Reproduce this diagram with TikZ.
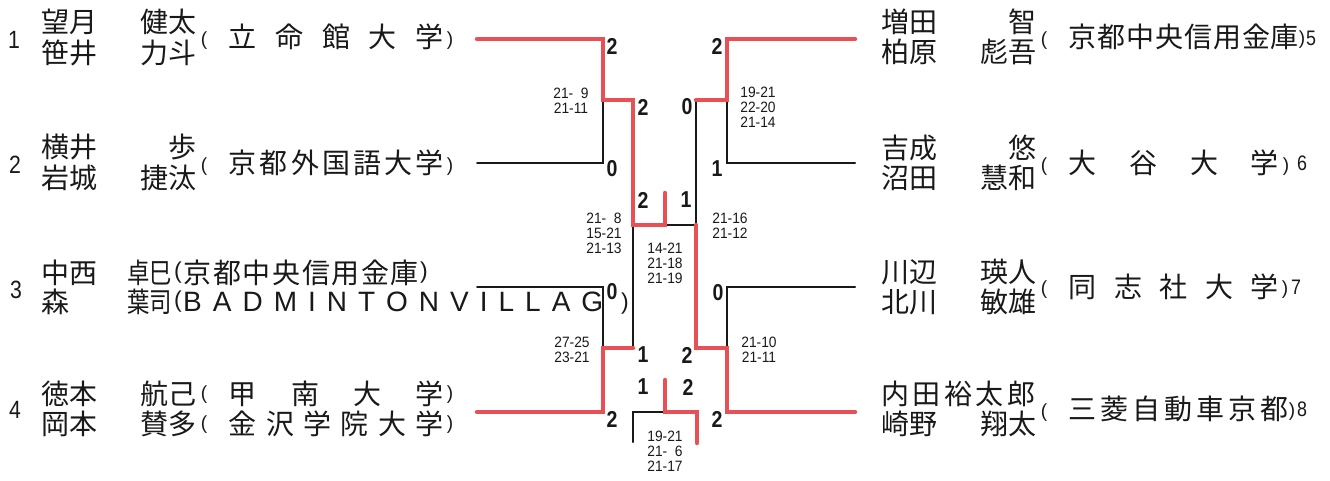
\documentclass[tikz,border=0pt]{standalone}
\usepackage{fontspec}
\usepackage{graphicx}
\newfontfamily\jpfont{Noto Sans CJK JP}
\newfontfamily\arialfont{Liberation Sans}
\definecolor{wred}{RGB}{233,80,86}
\definecolor{ink}{RGB}{25,25,25}
\newcommand\rsd[1]{\scalebox{0.85}[1]{#1}}
\newcommand\nsx[1]{\scalebox{0.85}[1]{#1}}
\newcommand\nnx[1]{\scalebox{0.8}[1]{#1}}
\newcommand\gsx[1]{\scalebox{0.92}[1]{#1}}
\newcommand\tk{\hspace{11pt}}
\begin{document}
\begin{tikzpicture}[x=1pt,y=-1pt,
  jp/.style={font=\jpfont\fontsize{28}{30}\selectfont, inner sep=0pt, text=ink},
  jpw/.style={jp, anchor=west},
  jpe/.style={jp, anchor=east},
  par/.style={font=\arialfont\fontsize{19}{20}\selectfont, inner sep=0pt, text=ink},
  bigpar/.style={font=\arialfont\fontsize{23}{24}\selectfont, inner sep=0pt, text=ink},
  seed/.style={font=\arialfont\fontsize{25}{25}\selectfont, inner sep=0pt, text=ink},
  rseed/.style={font=\arialfont\fontsize{21}{21}\selectfont, inner sep=0pt, text=ink},
  rs/.style={font=\arialfont\bfseries\fontsize{23}{23}\selectfont, inner sep=0pt, text=ink},
  gs/.style={font=\arialfont\fontsize{15}{15}\selectfont, inner sep=0pt, align=center, text=ink},
  win/.style={draw=wred, line width=4.5pt, line cap=round, line join=miter},
  lose/.style={draw=ink, line width=2pt, line cap=round, line join=miter}]
\path[use as bounding box, fill=white] (0,0) rectangle (1330,480);

% ---------- bracket coordinates ----------
\coordinate (L1s) at (477,39);  \coordinate (L1e) at (603,39);
\coordinate (L2s) at (477,163); \coordinate (L2e) at (603,163);
\coordinate (L12m) at (603,100); \coordinate (S1a) at (633,100);
\coordinate (L3s) at (477,287); \coordinate (L3e) at (603,287);
\coordinate (L4s) at (477,412); \coordinate (L4e) at (603,412);
\coordinate (L34m) at (603,348); \coordinate (S1b) at (633,348);
\coordinate (F1) at (633,225); \coordinate (Fm) at (665,225);
\coordinate (Fc) at (665,193); \coordinate (F2) at (696,225);
\coordinate (R5s) at (855,39);  \coordinate (R5e) at (727,39);
\coordinate (R6s) at (855,163); \coordinate (R6e) at (727,163);
\coordinate (R56m) at (727,100); \coordinate (S2a) at (696,100);
\coordinate (R7s) at (855,287); \coordinate (R7e) at (727,287);
\coordinate (R8s) at (855,412); \coordinate (R8e) at (727,412);
\coordinate (R78m) at (727,348); \coordinate (S2b) at (696,348);
\coordinate (T1) at (633,412); \coordinate (T1d) at (633,442);
\coordinate (Tm) at (665,412); \coordinate (Tc) at (665,380);
\coordinate (T2) at (697,412); \coordinate (T2d) at (697,443);

% ---------- losing lines ----------
\draw[lose] (L2s) -- (L2e) -- (L12m);
\draw[lose] (L3s) -- (L3e) -- (L34m);
\draw[lose] (S1b) -- (F1);
\draw[lose] (R6s) -- (R6e) -- (R56m);
\draw[lose] (R7s) -- (R7e) -- (R78m);
\draw[lose] (S2a) -- (F2) -- (Fm);
\draw[lose] (T1d) -- (T1) -- (Tm);
% ---------- winning lines ----------
\draw[win] (L1s) -- (L1e) -- (L12m) -- (S1a) -- (F1) -- (Fm) -- (Fc);
\draw[win] (L4s) -- (L4e) -- (L34m) -- (S1b);
\draw[win] (R5s) -- (R5e) -- (R56m) -- (S2a);
\draw[win] (R8s) -- (R8e) -- (R78m) -- (S2b) -- (F2);
\draw[win] (T2d) -- (T2) -- (Tm) -- (Tc);

% ---------- left entries ----------
\node[seed] (d1) at (14,40) {\nsx{1}};
\node[jpw] (s1a) at (41,22) {望月};
\node[jpe] (g1a) at (197,22) {健太};
\node[jpw] (s1b) at (41,53) {笹井};
\node[jpe] (g1b) at (197,53) {力斗};
\node[par] (po1) at (204,41) {(};
\node[jpw] (c1) at (228.5,37) {立\hspace{18.7pt}命\hspace{18.7pt}館\hspace{18.7pt}大\hspace{18.7pt}学};
\node[par] (pc1) at (450,41) {)};

\node[seed] (d2) at (15,165) {\nsx{2}};
\node[jpw] (s2a) at (41,147) {横井};
\node[jpe] (g2a) at (197,147) {歩};
\node[jpw] (s2b) at (41,178) {岩城};
\node[jpe] (g2b) at (197,178) {捷汰};
\node[par] (po2) at (204,167) {(};
\node[jpw] (c2) at (228.5,163) {京\hspace{3.2pt}都\hspace{3.2pt}外\hspace{3.2pt}国\hspace{3.2pt}語\hspace{3.2pt}大\hspace{3.2pt}学};
\node[par] (pc2) at (450,167) {)};

\node[seed] (d3) at (16,290) {\nsx{3}};
\node[jpw] (s3a) at (41,273) {中西};
\node[jpw] (g3a) at (127,273) {\nnx{卓巳}};
\node[bigpar] (po3a) at (178,273) {(};
\node[jpw] (c3a) at (183.5,273) {京\hspace{1.6pt}都\hspace{1.6pt}中\hspace{1.6pt}央\hspace{1.6pt}信\hspace{1.6pt}用\hspace{1.6pt}金\hspace{1.6pt}庫};
\node[bigpar] (pc3a) at (424,273) {)};
\node[jpw] (s3b) at (41,302) {森};
\node[jpw] (g3b) at (127,302) {\nnx{葉司}};
\node[bigpar] (po3b) at (178,302) {(};
\node[anchor=west, inner sep=0pt, text=ink, font=\arialfont\fontsize{28}{30}\selectfont] (c3b) at (183,302) {B\tk A\tk D\tk M\tk I\tk N\tk T\tk O\tk N\tk V\tk I\tk L\tk L\tk A\tk G};
\node[bigpar] (pc3b) at (625,304) {)};

\node[seed] (d4) at (15,410) {\nsx{4}};
\node[jpw] (s4a) at (41,394) {徳本};
\node[jpe] (g4a) at (197,394) {航己};
\node[par] (po4a) at (204,395) {(};
\node[jpw] (c4a) at (228.5,394) {甲\hspace{34.3pt}南\hspace{34.3pt}大\hspace{34.3pt}学};
\node[par] (pc4a) at (450,395) {)};
\node[jpw] (s4b) at (41,424) {岡本};
\node[jpe] (g4b) at (197,424) {賛多};
\node[par] (po4b) at (204,425) {(};
\node[jpw] (c4b) at (228.5,424) {金\hspace{9.4pt}沢\hspace{9.4pt}学\hspace{9.4pt}院\hspace{9.4pt}大\hspace{9.4pt}学};
\node[par] (pc4b) at (450,425) {)};

% ---------- right entries ----------
\node[jpw] (s5a) at (881,22) {増田};
\node[jpe] (g5a) at (1037,22) {智};
\node[jpw] (s5b) at (881,52) {柏原};
\node[jpe] (g5b) at (1037,52) {彪吾};
\node[par] (po5) at (1044,41) {(};
\node[jpw] (c5) at (1068.5,37) {京\hspace{0.9pt}都\hspace{0.9pt}中\hspace{0.9pt}央\hspace{0.9pt}信\hspace{0.9pt}用\hspace{0.9pt}金\hspace{0.9pt}庫};
\node[par] (pc5) at (1302,40) {)};
\node[rseed] (d5) at (1311,38) {\nsx{5}};

\node[jpw] (s6a) at (881,148) {吉成};
\node[jpe] (g6a) at (1037,148) {悠};
\node[jpw] (s6b) at (881,178) {沼田};
\node[jpe] (g6b) at (1037,178) {慧和};
\node[par] (po6) at (1044,167) {(};
\node[jpw] (c6) at (1068.5,163) {大\hspace{32.7pt}谷\hspace{32.7pt}大\hspace{32.7pt}学};
\node[par] (pc6) at (1286,167) {)};
\node[rseed] (d6) at (1302,163) {\nsx{6}};

\node[jpw] (s7a) at (881,272) {川辺};
\node[jpe] (g7a) at (1037,272) {瑛人};
\node[jpw] (s7b) at (881,302) {北川};
\node[jpe] (g7b) at (1037,302) {敏雄};
\node[par] (po7) at (1044,290) {(};
\node[jpw] (c7) at (1068.5,287) {同\hspace{17.5pt}志\hspace{17.5pt}社\hspace{17.5pt}大\hspace{17.5pt}学};
\node[par] (pc7) at (1285,290) {)};
\node[rseed] (d7) at (1296,287) {\nsx{7}};

\node[jpw] (s8a) at (881,394) {内\hspace{3.5pt}田\hspace{3.5pt}裕\hspace{3.5pt}太\hspace{3.5pt}郎};
\node[jpw] (s8b) at (881,424) {崎野};
\node[jpe] (g8b) at (1037,424) {翔太};
\node[par] (po8) at (1044,413) {(};
\node[jpw] (c8) at (1068.5,409) {三\hspace{4pt}菱\hspace{4pt}自\hspace{4pt}動\hspace{4pt}車\hspace{4pt}京\hspace{4pt}都};
\node[par] (pc8) at (1292,412) {)};
\node[rseed] (d8) at (1302,409) {\nsx{8}};

% ---------- match scores ----------
\node[rs] (r1) at (612,46) {\rsd{2}};
\node[rs] (r2) at (612,169) {\rsd{0}};
\node[rs] (r3) at (612,292) {\rsd{0}};
\node[rs] (r4) at (612,419) {\rsd{2}};
\node[rs] (r5) at (717,46) {\rsd{2}};
\node[rs] (r6) at (717,169) {\rsd{1}};
\node[rs] (r7) at (718,293) {\rsd{0}};
\node[rs] (r8) at (717,419) {\rsd{2}};
\node[rs] (sa) at (643,107) {\rsd{2}};
\node[rs] (sb) at (643,355) {\rsd{1}};
\node[rs] (sc) at (687,107) {\rsd{0}};
\node[rs] (sd) at (687,355) {\rsd{2}};
\node[rs] (fa) at (643,200) {\rsd{2}};
\node[rs] (fb) at (686,200) {\rsd{1}};
\node[rs] (ta) at (643,387) {\rsd{1}};
\node[rs] (tb) at (688,387) {\rsd{2}};

% ---------- game scores ----------
\node[gs] (gA) at (571,100.5) {\gsx{21-\hphantom{0}9}\\\gsx{21-11}};
\node[gs] (gB) at (604,233) {\gsx{21-\hphantom{0}8}\\\gsx{15-21}\\\gsx{21-13}};
\node[gs] (gC) at (665,263) {\gsx{14-21}\\\gsx{21-18}\\\gsx{21-19}};
\node[gs] (gD) at (572,349.5) {\gsx{27-25}\\\gsx{23-21}};
\node[gs] (gE) at (665,451) {\gsx{19-21}\\\gsx{21-\hphantom{0}6}\\\gsx{21-17}};
\node[gs] (gF) at (758,107) {\gsx{19-21}\\\gsx{22-20}\\\gsx{21-14}};
\node[gs] (gG) at (730,225.5) {\gsx{21-16}\\\gsx{21-12}};
\node[gs] (gH) at (759,349.5) {\gsx{21-10}\\\gsx{21-11}};
\end{tikzpicture}
\end{document}
